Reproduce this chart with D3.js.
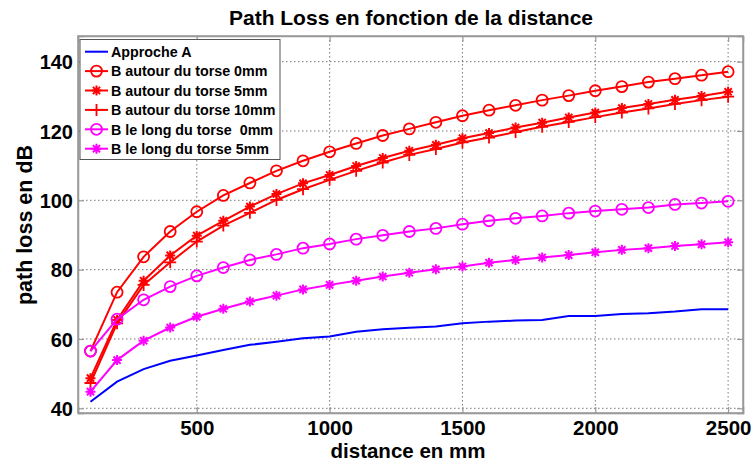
<!DOCTYPE html>
<html><head><meta charset="utf-8">
<script src="https://cdn.jsdelivr.net/npm/d3@7"></script>
<style>body{margin:0;background:#fff}svg{display:block}text{font-family:"Liberation Sans",Arial,sans-serif;font-weight:bold}</style>
</head><body>
<script>
const distances = [100,200,300,400,500,600,700,800,900,1000,1100,1200,1300,1400,1500,1600,1700,1800,1900,2000,2100,2200,2300,2400,2500];
const approcheA = [41.9,47.7,51.3,53.7,55.2,56.8,58.3,59.2,60.2,60.7,62.1,62.8,63.2,63.6,64.5,65.0,65.3,65.5,66.6,66.6,67.2,67.4,67.9,68.6,68.6];
const autour0 = [56.5,73.5,83.7,91.0,96.7,101.4,105.0,108.5,111.4,114.0,116.4,118.7,120.6,122.5,124.4,126.0,127.4,128.9,130.2,131.6,132.8,134.1,135.1,136.1,137.1];
const autour5 = [48.7,65.5,76.8,84.1,89.8,94.1,98.2,101.8,104.9,107.3,109.9,112.2,114.3,116.0,117.9,119.4,121.0,122.4,123.9,125.3,126.6,127.8,129.0,130.1,131.3];
const autour10 = [47.3,64.5,75.6,82.1,88.1,92.7,96.4,100.1,103.2,105.9,108.5,110.9,113.1,114.8,116.7,118.1,119.7,121.2,122.6,124.0,125.3,126.5,127.8,128.9,129.9];
const long0 = [56.5,65.7,71.3,75.1,78.2,80.6,82.8,84.4,86.2,87.4,88.8,89.9,91.0,91.9,93.1,94.1,94.8,95.5,96.3,96.9,97.4,97.9,98.8,99.2,99.7];
const long5 = [44.8,53.9,59.5,63.3,66.4,68.7,70.8,72.5,74.3,75.6,76.8,78.0,79.1,80.1,80.9,82.0,82.8,83.5,84.2,85.0,85.7,86.2,86.8,87.3,87.9];
const xTicks = [500,1000,1500,2000,2500];
const yTicks = [40,60,80,100,120,140];
const seriesNames = ["Approche A","B autour du torse 0mm","B autour du torse 5mm","B autour du torse 10mm","B le long du torse  0mm","B le long du torse 5mm"];
const seriesColors = ["#0000ff","#ff0000","#ff0000","#ff0000","#ff00ff","#ff00ff"];
const seriesMarkers = ["none","circle","star","plus","circle","star"];
const seriesValues = [approcheA,autour0,autour5,autour10,long0,long5];

const W=755,H=462;
const L=78,R=743,T=36,B=413;
const svg=d3.select("body").append("svg").attr("width",W).attr("height",H);
const x=d3.scaleLinear().domain([53,2556]).range([L,R]);
const y=d3.scaleLinear().domain([38.64,147.4]).range([B,T]);

// grid
const g=svg.append("g");
g.selectAll(".gx").data(xTicks).enter().append("line")
 .attr("x1",d=>x(d)).attr("x2",d=>x(d)).attr("y1",T).attr("y2",B)
 .attr("stroke","#555").attr("stroke-width",0.8).attr("stroke-dasharray","1.5,2.5");
g.selectAll(".gy").data(yTicks).enter().append("line")
 .attr("x1",L).attr("x2",R).attr("y1",d=>y(d)).attr("y2",d=>y(d))
 .attr("stroke","#555").attr("stroke-width",0.8).attr("stroke-dasharray","1.5,2.5");

// axes
const xAxisB=svg.append("g").attr("transform",`translate(0,${B})`).call(d3.axisBottom(x).tickValues(xTicks).tickSize(-6).tickPadding(10).tickFormat(d3.format("d")));
const xAxisT=svg.append("g").attr("transform",`translate(0,${T})`).call(d3.axisTop(x).tickValues(xTicks).tickSize(-6).tickFormat(""));
const yAxisL=svg.append("g").attr("transform",`translate(${L},0)`).call(d3.axisLeft(y).tickValues(yTicks).tickSize(-6).tickPadding(5).tickFormat(d3.format("d")));
const yAxisR=svg.append("g").attr("transform",`translate(${R},0)`).call(d3.axisRight(y).tickValues(yTicks).tickSize(-6).tickFormat(""));
[xAxisB,xAxisT,yAxisL,yAxisR].forEach(a=>{
  a.select(".domain").attr("stroke","#999").attr("stroke-width",1.5);
  a.selectAll(".tick line").attr("stroke","#999").attr("stroke-width",1.2);
  a.selectAll("text").attr("fill","#000").style("font-family","'Liberation Sans',Arial,sans-serif").style("font-weight","bold");
});
xAxisB.selectAll("text").attr("font-size",20.5).attr("dy",null).attr("y",21.5);
yAxisL.selectAll("text").attr("font-size",20).attr("dy","0.36em").attr("x",-5);
svg.append("rect").attr("x",L).attr("y",T).attr("width",R-L).attr("height",B-T).attr("fill","none").attr("stroke","#999").attr("stroke-width",1.5);

function markerPath(type,s){
  if(type==="star"){const a=s*0.72;return `M${-s},0L${s},0M0,${-s}L0,${s}M${-a},${-a}L${a},${a}M${-a},${a}L${a},${-a}`;}
  if(type==="plus"){return `M${-s},0L${s},0M0,${-s}L0,${s}`;}
  return null;
}
function drawMarker(sel,type,color,cx,cy){
  if(type==="circle"){sel.append("circle").attr("cx",cx).attr("cy",cy).attr("r",5.5).attr("fill","none").attr("stroke",color).attr("stroke-width",1.8);}
  else if(type==="star"){sel.append("path").attr("transform",`translate(${cx},${cy})`).attr("d",markerPath("star",5)).attr("stroke",color).attr("stroke-width",2).attr("fill","none");}
  else if(type==="plus"){sel.append("path").attr("transform",`translate(${cx},${cy})`).attr("d",markerPath("plus",6)).attr("stroke",color).attr("stroke-width",1.8).attr("fill","none");}
}

const line=d3.line().x((d,i)=>x(distances[i])).y(d=>y(d));
const plot=svg.append("g");
seriesValues.forEach((vals,k)=>{
  const sg=plot.append("g");
  sg.append("path").datum(vals).attr("d",line).attr("fill","none").attr("stroke",seriesColors[k]).attr("stroke-width",2);
  if(seriesMarkers[k]!=="none"){
    vals.forEach((v,i)=>drawMarker(sg,seriesMarkers[k],seriesColors[k],x(distances[i]),y(v)));
  }
});

// legend
const lg=svg.append("g");
lg.append("rect").attr("x",80).attr("y",39.5).attr("width",200).attr("height",120).attr("fill","#fff").attr("stroke","#555").attr("stroke-width",1);
seriesNames.forEach((n,k)=>{
  const yy=51.7+k*19.4;
  lg.append("line").attr("x1",85).attr("x2",108).attr("y1",yy).attr("y2",yy).attr("stroke",seriesColors[k]).attr("stroke-width",2);
  if(seriesMarkers[k]!=="none") drawMarker(lg,seriesMarkers[k],seriesColors[k],96.5,yy);
  lg.append("text").attr("x",111).attr("y",yy+5.2).attr("font-size",14.3).style("white-space","pre").text(n);
});

// titles
svg.append("text").attr("x",411).attr("y",25).attr("text-anchor","middle").attr("font-size",21).text("Path Loss en fonction de la distance");
svg.append("text").attr("x",408).attr("y",457.6).attr("text-anchor","middle").attr("font-size",20.5).text("distance en mm");
svg.append("text").attr("transform","translate(32,225) rotate(-90)").attr("text-anchor","middle").attr("font-size",21.5).text("path loss en dB");
</script>
</body></html>
